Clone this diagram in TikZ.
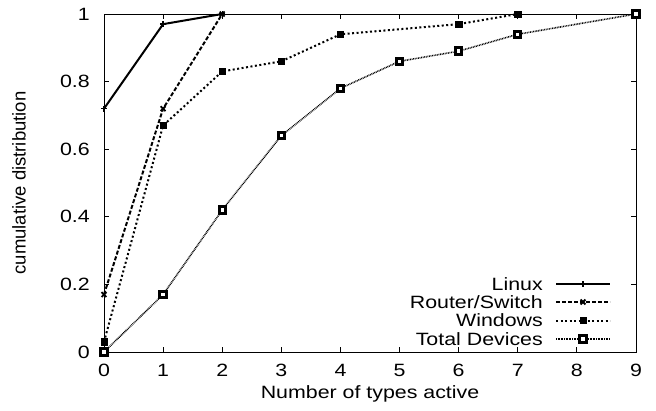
\documentclass[tikz,border=0pt]{standalone}
\usepackage{fontspec}
\newfontfamily\hf[FakeStretch=1.2]{Liberation Sans}
\newfontfamily\vf{Liberation Sans}
\usetikzlibrary{plotmarks}
\tikzset{
  lab/.style={font=\hf\fontsize{17.8}{18}\selectfont, inner sep=0pt},
  ylab/.style={font=\vf\fontsize{18.5}{19}\selectfont, inner sep=0pt},
  tickline/.style={line width=1pt},
  linuxline/.style={line width=2pt, mark=+, mark size=3pt, mark options={solid,line width=1.4pt}},
  routerline/.style={line width=2pt, dash pattern=on 4pt off 2pt, mark=x, mark size=3.5pt, mark options={solid,line width=1.8pt}},
  winline/.style={line width=2pt, dash pattern=on 2pt off 2.5pt, mark=square*, mark size=3.2pt, mark options={solid,line width=0.5pt}},
  totline/.style={line width=1.6pt, dash pattern=on 0.8pt off 0.8pt, mark=square*, mark size=3.2pt, mark options={solid,fill=white,line width=3pt}},
}
\begin{document}
\begin{tikzpicture}[x=1pt,y=-1pt]
\useasboundingbox (0,0) rectangle (656,410);
% frame
\node[draw, line width=1.3pt, minimum width=532pt, minimum height=338pt, inner sep=0pt, anchor=north west] (frame) at (104,14) {};
\begin{scope}[shift={(104,352)}, x=59.11pt, y=338pt]
  % ticks
  \foreach \i in {1,...,8} {
    \draw[tickline] (\i,0) -- ++(0,5pt);
    \draw[tickline] (\i,1) -- ++(0,-5pt);
  }
  \foreach \v in {0.2,0.4,0.6,0.8} {
    \draw[tickline] (0,\v) -- ++(5pt,0);
    \draw[tickline] (9,\v) -- ++(-5pt,0);
  }
  % tick labels
  \foreach \i in {0,...,9} \node[lab] (xt\i) at (\i,0) [yshift=-18pt] {\i};
  \foreach \v/\t in {0/0,0.2/0.2,0.4/0.4,0.6/0.6,0.8/0.8,1/1}
    \node[lab, anchor=east] (yt\t) at (0,\v) [xshift=-14pt] {\t};
  % data
  \draw[totline] plot coordinates {(0,0) (1,0.17) (2,0.42) (3,0.64) (4,0.78) (5,0.86) (6,0.89) (7,0.94) (9,1.0)};
  \draw[winline] plot coordinates {(0,0.03) (1,0.67) (2,0.83) (3,0.86) (4,0.94) (6,0.97) (7,1.0)};
  \draw[routerline] plot coordinates {(0,0.17) (1,0.72) (2,1.0)};
  \draw[linuxline] plot coordinates {(0,0.72) (1,0.97) (2,1.0)};
\end{scope}
% axis titles
\node[lab] (xlabel) at (370,394) {Number of types active};
\node[ylab, rotate=90] (ylabel) at (19,183) {cumulative distribution};
% legend
\node[lab, anchor=east] (l1) at (543,284) {Linux};
\node[lab, anchor=east] (l2) at (543,302) {Router/Switch};
\node[lab, anchor=east] (l3) at (543,320.5) {Windows};
\node[lab, anchor=east] (l4) at (543,339) {Total Devices};
\draw[linuxline, mark=none] (556,284) -- (610,284);
\draw[linuxline] plot coordinates {(583,284)};
\draw[routerline, mark=none] (556,302) -- (610,302);
\draw[routerline] plot coordinates {(583,302)};
\draw[winline, mark=none] (556,320.5) -- (610,320.5);
\draw[winline] plot coordinates {(583,320.5)};
\draw[totline, mark=none] (556,339) -- (610,339);
\draw[totline] plot coordinates {(583,339)};
\end{tikzpicture}
\end{document}
